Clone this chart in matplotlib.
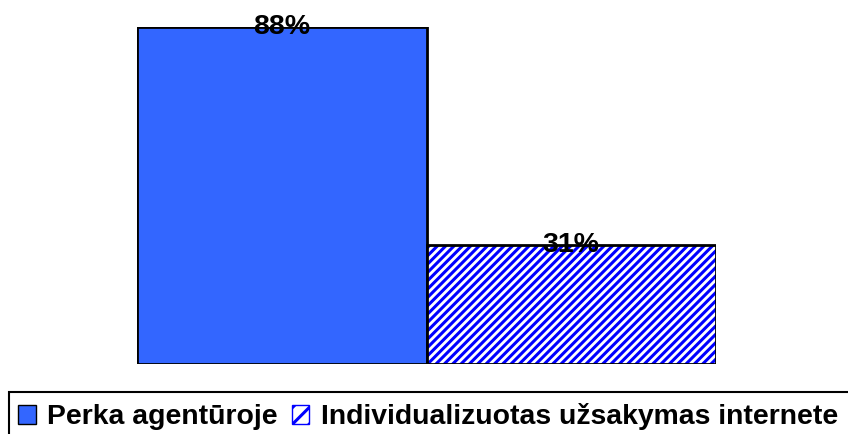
import matplotlib.pyplot as plt
import matplotlib.patches as mpatches

plt.rcParams['font.family'] = ['Liberation Sans', 'DejaVu Sans']
plt.rcParams['hatch.linewidth'] = 2.2

# chart values
categories = ['Perka agentūroje', 'Individualizuotas užsakymas internete']
values = [88, 31]
labels = ['88%', '31%']

fig = plt.figure(figsize=(8.48, 4.34), dpi=100)
# plot area: x 137..716 px, y 27..364 px
ax = fig.add_axes([137 / 848, 1 - 364 / 434, (716 - 137) / 848, (364 - 27) / 434])

x = [0, 1]
# solid bar
ax.bar(x[0], values[0], width=1.0, color='#3366FF', edgecolor='black', linewidth=2,
       label=categories[0], zorder=2)
# hatched bar: hatch in blue, then black outline on top
ax.bar(x[1], values[1], width=1.0, color='white', edgecolor='#0000FF', hatch='////',
       linewidth=0, label=categories[1], zorder=2)
ax.bar(x[1], values[1], width=1.0, fill=False, edgecolor='black', linewidth=2, zorder=3)

for xi, v, lab in zip(x, values, labels):
    ax.text(xi, v, lab, ha='center', va='center', fontsize=20.5, fontweight='bold', zorder=4)

ax.set_xlim(-0.5, 1.5)
ax.set_ylim(0, 88)
ax.axis('off')

# legend handles with black outline
h1 = mpatches.Patch(facecolor='#3366FF', edgecolor='black', linewidth=1, label=categories[0])
h2 = mpatches.Patch(facecolor='white', edgecolor='#0000FF', hatch='//', linewidth=1, label=categories[1])
leg = fig.legend(handles=[h1, h2], loc='upper left', bbox_to_anchor=(9 / 848, 1 - 394 / 434),
                 bbox_transform=fig.transFigure, ncol=2, frameon=False,
                 borderaxespad=0, borderpad=0.32, handlelength=0.62, handleheight=0.65,
                 handletextpad=0.4, columnspacing=0.5,
                 prop={'size': 20.4, 'weight': 'bold'})

# legend box runs past the right and bottom edges of the image
fig.patches.append(mpatches.Rectangle((9 / 848, -0.05), 1.0, 0.05 + 1 - 392 / 434,
                                      transform=fig.transFigure, fill=False,
                                      edgecolor='black', linewidth=1.5))

fig.savefig('out.png', dpi=100)
